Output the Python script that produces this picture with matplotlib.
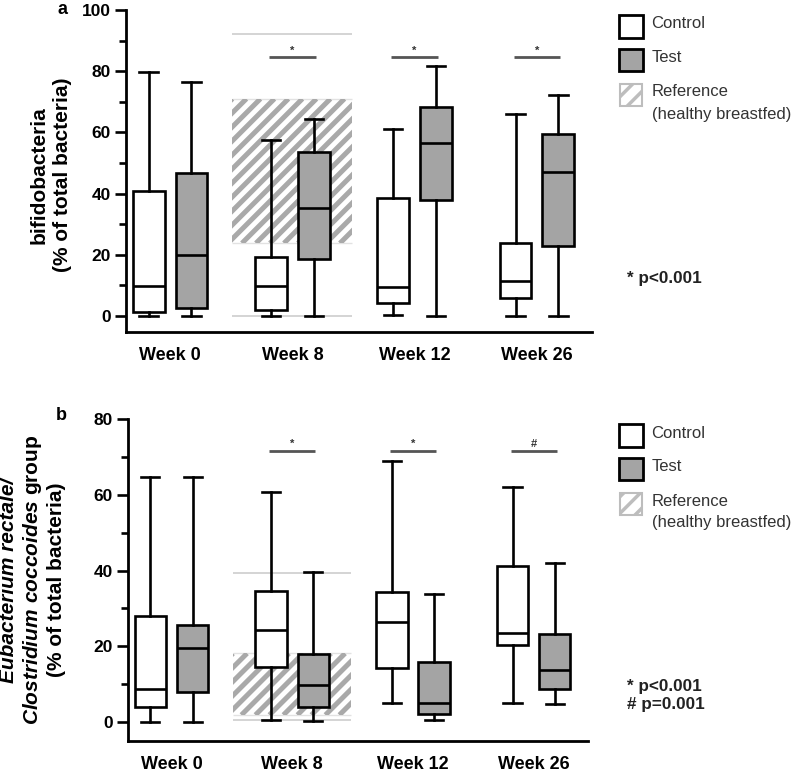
import matplotlib
matplotlib.use("Agg")
import matplotlib.pyplot as plt
import numpy as np
from matplotlib.patches import Rectangle
from matplotlib.collections import LineCollection
from matplotlib.transforms import IdentityTransform

plt.rcParams['font.family'] = ['Liberation Sans', 'DejaVu Sans']
plt.rcParams['hatch.linewidth'] = 2.5
plt.rcParams['mathtext.fontset'] = 'custom'
plt.rcParams['mathtext.it'] = 'Liberation Sans:italic:bold'
plt.rcParams['mathtext.rm'] = 'Liberation Sans:bold'

W, H = 794, 773

weeks = ["Week 0", "Week 8", "Week 12", "Week 26"]

# box stats per week: whislo, q1, median, q3, whishi
bifido_control = [[0, 1.2, 9.9, 41.0, 79.7],
                  [0, 2.0, 9.8, 19.2, 57.4],
                  [0.2, 4.2, 9.4, 38.6, 61.1],
                  [0, 6.0, 11.5, 24.0, 66.0]]
bifido_test = [[0, 2.5, 19.8, 46.8, 76.4],
               [0, 18.5, 35.4, 53.6, 64.3],
               [0, 37.8, 56.6, 68.2, 81.7],
               [0, 23.0, 47.0, 59.6, 72.2]]
bifido_ref = [0, 23.8, 71.0, 92.0]   # lo, q1, q3, hi (week 8)
bifido_sig = ["", "*", "*", "*"]
bifido_sig_y = 84.5

eub_control = [[0, 3.8, 8.7, 28.0, 64.8],
               [0.6, 14.4, 24.3, 34.6, 60.8],
               [4.9, 14.1, 26.3, 34.4, 69.0],
               [4.9, 20.3, 23.5, 41.2, 62.2]]
eub_test = [[0, 7.9, 19.6, 25.5, 64.8],
            [0.3, 4.0, 9.6, 17.9, 39.5],
            [0.6, 1.95, 4.9, 15.7, 33.8],
            [4.6, 8.8, 13.7, 23.1, 42.1]]
eub_ref = [0.5, 1.8, 18.1, 39.3]
eub_sig = ["", "*", "*", "#"]
eub_sig_y = 71.6

test_color = '#a4a4a4'
ref_color = '#a9a9a9'


def to_stats(rows):
    return [dict(whislo=r[0], q1=r[1], med=r[2], q3=r[3], whishi=r[4]) for r in rows]


def stripes(ax, x0, x1, y0, y1, spacing=14, lw=3.6, color=ref_color):
    # diagonal stripes in pixel space, clipped to the reference box
    rect = Rectangle((x0, y0), x1 - x0, y1 - y0, facecolor='white',
                     edgecolor='none', zorder=0)
    ax.add_patch(rect)
    dx0, dy0 = ax.transData.transform((x0, y0))
    dx1, dy1 = ax.transData.transform((x1, y1))
    h = dy1 - dy0
    starts = np.arange(dx0 - h, dx1 + spacing, spacing)
    segs = [[(s, dy0), (s + h, dy1)] for s in starts]
    lc = LineCollection(segs, transform=IdentityTransform(), colors=color,
                        linewidths=lw, zorder=0.5)
    ax.add_collection(lc, autolim=False)
    lc.set_clip_path(rect)


def draw_panel(ax, control, test, ref, sig, sig_y, ymax, ystep, ylo):
    pos = np.arange(len(weeks))
    ax.set_xlim(-0.36, 3.45)
    ax.set_ylim(ylo, ymax)
    common = dict(widths=0.26, showfliers=False, patch_artist=True,
                  whiskerprops=dict(linewidth=1.9, color='black'),
                  capprops=dict(linewidth=1.9, color='black'),
                  medianprops=dict(linewidth=1.9, color='black'),
                  capwidths=0.15, manage_ticks=False)
    ax.bxp(to_stats(control), positions=pos - 0.175,
           boxprops=dict(facecolor='white', edgecolor='black', linewidth=1.9), **common)
    ax.bxp(to_stats(test), positions=pos + 0.175,
           boxprops=dict(facecolor=test_color, edgecolor='black', linewidth=1.9), **common)

    # reference range (healthy breastfed) at week 8
    lo, q1, q3, hi = ref
    stripes(ax, 1 - 0.49, 1 + 0.49, q1, q3)
    ax.hlines([lo, hi], 1 - 0.49, 1 + 0.49, colors='#cdcdcd', linewidth=1.2, zorder=0)
    ax.hlines([q1, q3], 1 - 0.49, 1 + 0.49, colors='#e2e2e2', linewidth=1.0, zorder=0)

    for p, s in zip(pos, sig):
        if s:
            ax.hlines(sig_y, p - 0.19, p + 0.19, colors='#555555', linewidth=2)
            ax.text(p, sig_y + 0.6, s, ha='center', va='bottom', fontsize=8,
                    color='#333333', fontweight='bold')

    ax.set_xlim(-0.36, 3.45)
    ax.set_ylim(ylo, ymax)
    ax.set_yticks(np.arange(0, ymax + 1, ystep))
    ax.set_yticks(np.arange(ystep / 2, ymax, ystep), minor=True)
    ax.set_xticks(pos, weeks)
    for lab in ax.get_xticklabels() + ax.get_yticklabels():
        lab.set_fontweight('bold')
    ax.tick_params(axis='y', which='major', direction='out', length=8, width=1.9,
                   labelsize=12.5, pad=3)
    ax.tick_params(axis='y', which='minor', direction='out', length=5, width=1.9)
    ax.tick_params(axis='x', length=0, labelsize=13, pad=11)
    for side in ['top', 'right']:
        ax.spines[side].set_visible(False)
    for side in ['left', 'bottom']:
        ax.spines[side].set_linewidth(2)


def px_rect(fig, x0, y0, x1, y1, **kw):
    fig.add_artist(Rectangle((x0 / W, 1 - y1 / H), (x1 - x0) / W, (y1 - y0) / H,
                             transform=fig.transFigure, **kw))


def px_text(fig, x, y, s, **kw):
    fig.text(x / W, 1 - y / H, s, **kw)


def legend(fig, top, ptext, ptop):
    px_rect(fig, 619, top, 643, top + 23, facecolor='white', edgecolor='black', linewidth=2)
    px_rect(fig, 619, top + 34, 643, top + 56, facecolor=test_color, edgecolor='black', linewidth=2)
    px_rect(fig, 620, top + 69, 642, top + 91, facecolor='white', edgecolor='#bdbdbd',
            hatch='//', linewidth=1.5)
    kw = dict(fontsize=12, color='#333333', va='center', ha='left')
    px_text(fig, 651, top + 9, "Control", **kw)
    px_text(fig, 652, top + 42, "Test", **kw)
    px_text(fig, 652, top + 77, "Reference", **kw)
    px_text(fig, 652, top + 99, "(healthy breastfed)", **kw)
    for i, t in enumerate(ptext):
        px_text(fig, 627, ptop + 18 * i, t, fontsize=12.3, fontweight='bold',
                color='#222222', va='center', ha='left')


fig = plt.figure(figsize=(W / 100, H / 100), dpi=100)

ax1 = fig.add_axes([126 / W, 1 - 332 / H, 466 / W, 322 / H])
draw_panel(ax1, bifido_control, bifido_test, bifido_ref, bifido_sig, bifido_sig_y, 100, 20, -5.2)

ax2 = fig.add_axes([128 / W, 1 - 740.7 / H, 460 / W, 321.4 / H])
draw_panel(ax2, eub_control, eub_test, eub_ref, eub_sig, eub_sig_y, 80, 20, -5.0)

legend(fig, 15, ["* p<0.001"], 278)
legend(fig, 424, ["* p<0.001", "# p=0.001"], 687)

px_text(fig, 62, 9, "a", fontsize=13, fontweight='bold', ha='center', va='center')
px_text(fig, 61, 415, "b", fontsize=13, fontweight='bold', ha='center', va='center')

ykw = dict(rotation=90, fontsize=15, fontweight='bold', ha='center', va='center')
px_text(fig, 39, 175, "bifidobacteria", **ykw)
px_text(fig, 63, 175, "(% of total bacteria)", **ykw)

px_text(fig, 9, 580, "Eubacterium rectale/", style='italic', **ykw)
px_text(fig, 33, 580, r"$\mathit{Clostridium\ coccoides}$ group", **ykw)
px_text(fig, 56, 580, "(% of total bacteria)", **ykw)

fig.savefig("out.png", dpi=100)
